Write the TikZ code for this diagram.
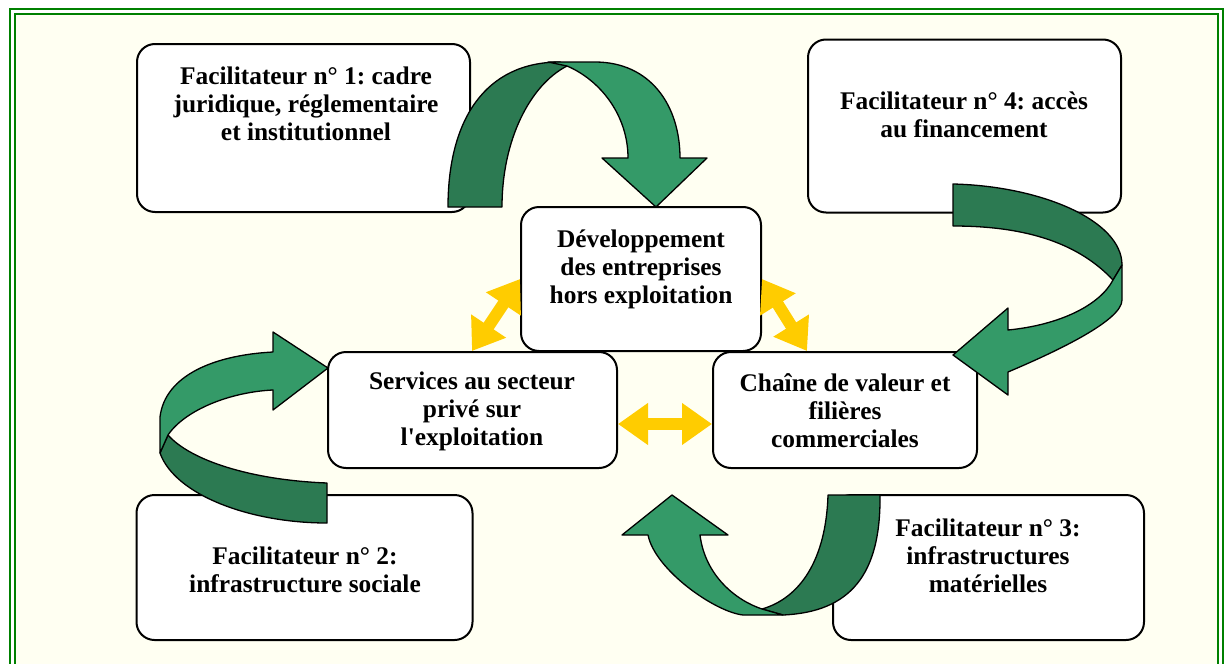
\documentclass[tikz,border=0pt]{standalone}
\usepackage{fontspec}
\setmainfont{Liberation Serif}
\usetikzlibrary{arrows.meta,calc}
\frenchspacing

\definecolor{framegreen}{RGB}{0,128,0}
\definecolor{paper}{RGB}{255,255,242}
\definecolor{darkribbon}{RGB}{44,122,82}
\definecolor{lightribbon}{RGB}{52,154,104}
\definecolor{linkyellow}{RGB}{255,204,0}

\begin{document}
\begin{tikzpicture}[x=1pt, y=-1pt,
    box/.style={draw, line width=2pt, fill=white, rounded corners=18pt, inner sep=0pt},
    txt/.style={align=center, font=\fontsize{25.4}{28}\selectfont\bfseries, inner sep=0pt},
    back/.style={draw, line width=1.3pt, fill=darkribbon, line join=round},
    front/.style={draw, line width=1.3pt, fill=lightribbon, line join=round},
    link/.style={draw=linkyellow, line width=12pt,
        arrows={Triangle[length=30pt,width=40pt]-Triangle[length=30pt,width=40pt]}}]
    \useasboundingbox (0,0) rectangle (1229,664);

    % Frame
    \fill[paper] (15,14) rectangle (1218,665);
    \draw[framegreen, line width=2.5pt] (10,9) rectangle (1223,672);
    \draw[framegreen, line width=2.5pt] (15,14) rectangle (1218,665);

    % Boxes
    \node[box, minimum width=333, minimum height=168] (fac1) at (303.5,128) {};
    \node[box, minimum width=313, minimum height=173] (fac4) at (964.5,126) {};
    \node[box, minimum width=240, minimum height=144] (dev) at (641,279) {};
    \node[box, minimum width=289, minimum height=116] (serv) at (472.5,410) {};
    \node[box, minimum width=264, minimum height=116] (chain) at (845,410) {};
    \node[box, minimum width=336, minimum height=145] (fac2) at (304.5,567.5) {};
    \node[box, minimum width=311, minimum height=145] (fac3) at (988.5,567.5) {};

    % Labels
    \node[txt] (fac1txt) at (306,104) {Facilitateur n° 1: cadre\\juridique, réglementaire\\et institutionnel};
    \node[txt] (fac4txt) at (964,115) {Facilitateur n° 4: accès\\au financement};
    \node[txt] (devtxt) at (641,269) {Développement\\des entreprises\\hors exploitation};
    \node[txt] (servtxt) at (472,411) {Services au secteur\\privé sur\\l\textquotesingle exploitation};
    \node[txt] (chaintxt) at (845,411) {Chaîne de valeur et\\filières\\commerciales};
    \node[txt] (fac2txt) at (305,570) {Facilitateur n° 2:\\infrastructure sociale};
    \node[txt] (fac3txt) at (988,556) {Facilitateur n° 3:\\infrastructures\\matérielles};

    % Ribbon 1 -> centre
    \draw[back] (448,207) .. controls (448,120) and (485,62) .. (560,62)
        -- (567,66) .. controls (530,85) and (502,140) .. (502,207) -- cycle;
    \draw[front] (548,62) -- (595,62) .. controls (650,62) and (680,105) .. (680,158)
        -- (707,158) -- (656,207) -- (602,158) -- (628,158)
        .. controls (628,115) and (600,80) .. (567,66) -- cycle;

    % Ribbon 4 -> chain
    \draw[back] (953,184) .. controls (1040,186) and (1122,220) .. (1122,265)
        -- (1113,280) .. controls (1080,245) and (1030,226) .. (953,226) -- cycle;
    \draw[front] (1113,280) -- (1122,265) -- (1122,300)
        .. controls (1122,320) and (1060,350) .. (1008,372)
        -- (1008,395) -- (953,355) -- (1008,308) -- (1008,330)
        .. controls (1060,325) and (1100,305) .. (1113,280) -- cycle;

    % Ribbon 2 -> services
    \draw[back] (327,483) .. controls (250,480) and (190,460) .. (168,435)
        -- (160,453) .. controls (175,495) and (250,523) .. (327,523) -- cycle;
    \draw[front] (168,435) -- (160,453) -- (160,417)
        .. controls (165,375) and (215,355) .. (273,352)
        -- (273,332) -- (328,368) -- (273,410) -- (273,390)
        .. controls (230,392) and (185,410) .. (168,435) -- cycle;

    % Ribbon 3 -> chain
    \draw[back] (828,495) -- (880,495) .. controls (881,575) and (850,612) .. (783,615)
        -- (762,609) .. controls (800,598) and (826,560) .. (828,495) -- cycle;
    \draw[front] (762,609) -- (783,615) -- (743,615)
        .. controls (715,612) and (655,570) .. (648,535)
        -- (622,535) -- (672,495) -- (728,535) -- (700,535)
        .. controls (705,575) and (735,600) .. (762,609) -- cycle;

    % Links
    \coordinate (servtop) at ($(serv.north west)+(145,0)$);
    \coordinate (chaintop) at ($(chain.north west)+(95,0)$);
    \coordinate (servright) at ($(serv.east)+(0,14)$);
    \coordinate (chainleft) at ($(chain.west)+(0,14)$);
    \draw[link] (servtop) -- (dev.west);
    \draw[link] (dev.east) -- (chaintop);
    \draw[link] (servright) -- (chainleft);
\end{tikzpicture}
\end{document}
